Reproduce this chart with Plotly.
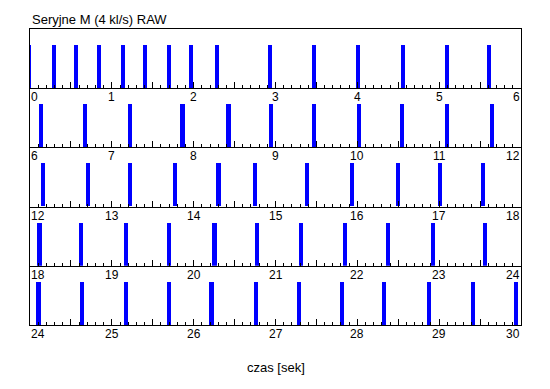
import plotly.graph_objects as go
from plotly.subplots import make_subplots

title_text = "Seryjne M (4 kl/s) RAW"
x_title = "czas [sek]"

row_starts = [0, 6, 12, 18, 24]
row_span = 6

# event times [s]
events_row1 = [-0.01, 0.288, 0.557, 0.847, 1.132, 1.401, 1.695, 1.964, 2.282, 2.931,
               3.466, 4.009, 4.556, 5.098, 5.612]
events_row2 = [6.137, 6.676, 7.218, 7.863, 8.426, 8.940, 9.466, 10.025, 10.547, 11.094, 11.645]
events_row3 = [12.162, 12.712, 13.226, 13.777, 14.303, 14.748, 15.381, 15.931, 16.494,
               17.012, 17.535]
events_row4 = [18.116, 18.627, 19.178, 19.704, 20.255, 20.769, 21.307, 21.850, 22.372,
               22.923, 23.563]
events_row5 = [24.104, 24.630, 25.169, 25.695, 26.218, 26.760, 27.286, 27.809, 28.327,
               28.878, 29.416, 29.942]
events = [events_row1, events_row2, events_row3, events_row4, events_row5]
event_level = 0.73
bar_width = 0.05

tick_labels = [[str(s + k) for k in range(row_span + 1)] for s in row_starts]

FONT = "Liberation Sans, Arial, sans-serif"

fig = make_subplots(rows=5, cols=1, vertical_spacing=0)

for i, ev in enumerate(events):
    r = i + 1
    fig.add_trace(go.Bar(x=ev, y=[event_level] * len(ev), width=bar_width,
                         marker=dict(color="#0000FF", line=dict(width=0)),
                         showlegend=False, hoverinfo="x"), row=r, col=1)
    fig.update_xaxes(range=[row_starts[i], row_starts[i] + row_span],
                     showline=True, linecolor="black", linewidth=1,
                     mirror=(r == 1),
                     ticks="inside", tick0=0, dtick=0.5, ticklen=6, tickcolor="black",
                     tickwidth=1,
                     minor=dict(ticks="inside", dtick=0.1, ticklen=3, tickcolor="black",
                                tickwidth=1, showgrid=False),
                     showticklabels=False, showgrid=False, zeroline=False,
                     fixedrange=True, row=r, col=1)
    fig.update_yaxes(range=[0, 1], showline=True, linecolor="black", linewidth=1,
                     mirror=True, ticks="", showticklabels=False, showgrid=False,
                     zeroline=False, fixedrange=True, row=r, col=1)
    labels = tick_labels[i]
    for k, lab in enumerate(labels):
        xv = row_starts[i] + k
        if k == 0:
            xa, xs = "left", -1
        elif k == len(labels) - 1:
            xa, xs = "right", 1
        else:
            xa, xs = "center", 0
        fig.add_annotation(x=xv, y=0, xref=f"x{r if r > 1 else ''}",
                           yref=f"y{r if r > 1 else ''}", text=lab, showarrow=False,
                           xanchor=xa, yanchor="top", xshift=xs, yshift=0,
                           font=dict(family=FONT, size=12, color="black"))

fig.add_annotation(x=0, y=1, xref="paper", yref="paper", text=title_text,
                   showarrow=False, xanchor="left", yanchor="bottom", yshift=0,
                   font=dict(family=FONT, size=13, color="black"))
fig.add_annotation(x=0.5, y=0, xref="paper", yref="paper", text=x_title,
                   showarrow=False, xanchor="center", yanchor="top", yshift=-33,
                   font=dict(family=FONT, size=13, color="black"))

fig.update_layout(width=550, height=389, margin=dict(l=22, r=37, t=21, b=72),
                  paper_bgcolor="white", plot_bgcolor="white", bargap=0,
                  font=dict(family=FONT, size=12, color="black"))

fig.write_html("out.html")
